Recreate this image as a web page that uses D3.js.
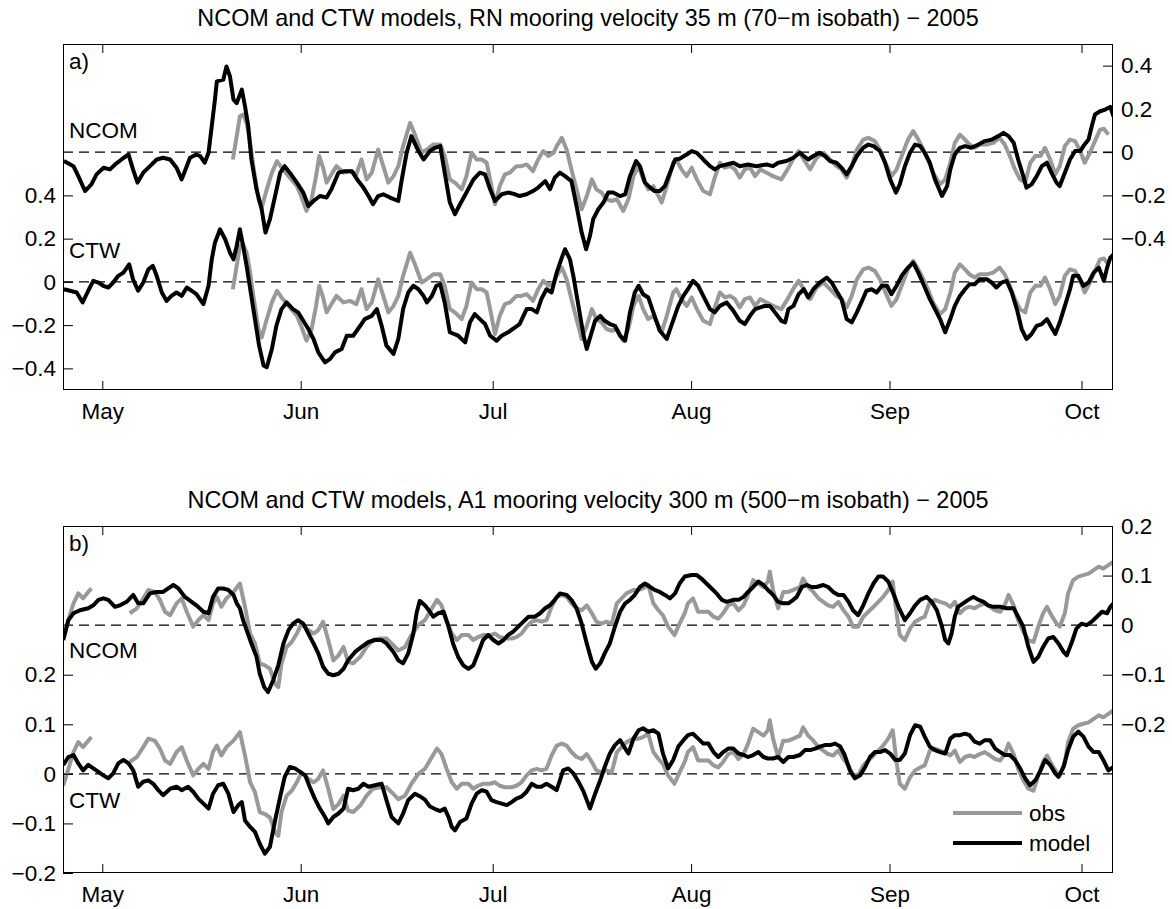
<!DOCTYPE html>
<html>
<head>
<meta charset="utf-8">
<script src="https://cdn.jsdelivr.net/npm/d3@7"></script>
<style>
  html, body { margin: 0; padding: 0; background: #fff; }
  svg { display: block; }
  text { font-family: "Liberation Sans", Arial, Helvetica, sans-serif; fill: #000; }
</style>
</head>
<body>
<svg id="chart" width="1172" height="909"></svg>
<script>
// Time is given as days since 1 May 2005; velocities in m/s.

// ---- Panel a: RN mooring, 35 m ----
const rnNcomModel = [[-6.0,-0.041],[-4.5,-0.065],[-3.75,-0.111],[-2.7,-0.180],[-1.7,-0.149],[-0.9,-0.103],[0.2,-0.072],[1.2,-0.080],[2.0,-0.057],[3.0,-0.034],[4.1,-0.011],[4.8,-0.080],[5.5,-0.141],[6.4,-0.095],[7.45,-0.065],[8.5,-0.034],[9.5,-0.026],[10.6,-0.034],[11.6,-0.072],[12.4,-0.126],[13.2,-0.065],[13.7,-0.026],[14.7,-0.011],[15.3,-0.018],[16.0,-0.049],[16.6,-0.003],[17.1,0.120],[17.6,0.243],[17.9,0.327],[18.9,0.335],[19.4,0.396],[19.95,0.350],[20.5,0.243],[21.0,0.227],[21.8,0.289],[22.3,0.212],[22.8,0.120],[23.3,-0.034],[24.1,-0.172],[24.9,-0.264],[25.5,-0.372],[26.2,-0.310],[27.0,-0.203],[27.8,-0.095],[28.5,-0.065],[29.3,-0.095],[30.4,-0.141],[31.4,-0.187],[32.2,-0.249],[33.0,-0.226],[34.0,-0.203],[35.05,-0.210],[35.8,-0.172],[36.9,-0.095],[37.9,-0.088],[39.0,-0.088],[40.0,-0.134],[40.8,-0.164],[41.6,-0.203],[42.3,-0.241],[43.1,-0.203],[43.9,-0.195],[44.95,-0.210],[46.25,-0.226],[46.8,-0.126],[47.55,-0.003],[48.3,0.074],[49.4,0.005],[50.2,-0.034],[51.2,0.005],[52.0,0.020],[52.8,0.028],[53.5,-0.095],[54.3,-0.233],[55.1,-0.287],[55.9,-0.241],[56.9,-0.187],[58.0,-0.126],[59.0,-0.095],[59.8,-0.103],[60.6,-0.172],[61.35,-0.226],[62.4,-0.195],[63.4,-0.187],[64.5,-0.195],[65.2,-0.203],[66.3,-0.195],[67.3,-0.180],[68.1,-0.164],[69.2,-0.134],[69.95,-0.172],[70.7,-0.118],[71.5,-0.095],[72.3,-0.111],[73.3,-0.134],[74.1,-0.249],[74.9,-0.372],[75.6,-0.449],[76.2,-0.387],[76.7,-0.310],[77.5,-0.264],[78.3,-0.233],[79.05,-0.187],[79.8,-0.187],[80.9,-0.203],[81.7,-0.195],[82.45,-0.111],[83.4,-0.041],[84.0,-0.065],[84.8,-0.141],[85.6,-0.164],[86.3,-0.180],[87.1,-0.180],[87.9,-0.157],[88.7,-0.095],[89.5,-0.034],[90.2,-0.031],[91.3,-0.011],[92.1,0.005],[92.9,-0.003],[93.9,-0.034],[94.95,-0.065],[95.7,-0.080],[96.5,-0.065],[97.55,-0.057],[98.6,-0.049],[99.6,-0.065],[100.9,-0.057],[102.2,-0.065],[103.8,-0.057],[104.8,-0.065],[105.6,-0.049],[106.9,-0.041],[107.97,-0.026],[109.0,-0.003],[109.6,-0.018],[110.3,-0.034],[111.1,-0.018],[112.1,-0.003],[112.9,-0.018],[113.7,-0.041],[114.7,-0.049],[115.5,-0.072],[116.3,-0.103],[117.1,-0.065],[117.9,-0.018],[118.9,0.020],[119.7,0.035],[120.5,0.028],[121.5,0.005],[122.3,-0.049],[123.1,-0.126],[124.0,-0.187],[124.6,-0.149],[125.4,-0.065],[126.2,-0.003],[127.0,0.035],[127.8,0.028],[128.5,-0.003],[129.3,-0.049],[130.1,-0.126],[131.2,-0.203],[132.0,-0.157],[132.5,-0.080],[133.2,-0.011],[134.0,0.020],[134.8,0.028],[135.8,0.020],[136.9,0.035],[137.9,0.051],[139.0,0.058],[140.0,0.074],[140.8,0.089],[141.6,0.074],[142.4,0.043],[143.1,-0.034],[143.9,-0.111],[144.4,-0.164],[145.2,-0.149],[146.0,-0.111],[146.8,-0.065],[147.6,-0.049],[148.3,-0.095],[149.1,-0.141],[149.6,-0.157],[150.4,-0.095],[151.2,-0.034],[152.0,0.005],[152.8,0.005],[153.3,0.028],[154.1,0.058],[154.6,0.120],[155.1,0.174],[155.9,0.189],[156.7,0.197],[157.5,0.209],[158.0,0.166]];

const rnCtwModel = [[-6.0,-0.034],[-5.05,-0.041],[-4.0,-0.049],[-3.07,-0.095],[-2.2,-0.041],[-1.4,0.005],[-0.6,-0.003],[0.16,-0.018],[0.94,-0.026],[1.7,-0.003],[2.5,0.028],[3.3,0.043],[4.2,0.081],[4.8,0.012],[5.6,-0.041],[6.4,-0.003],[7.2,0.058],[7.9,0.074],[8.5,0.028],[9.3,-0.049],[10.05,-0.088],[10.8,-0.065],[11.6,-0.049],[12.4,-0.065],[13.2,-0.026],[13.96,-0.041],[14.7,-0.057],[15.8,-0.103],[16.6,-0.018],[17.1,0.104],[17.6,0.181],[18.4,0.243],[19.2,0.197],[19.95,0.135],[20.5,0.104],[21.0,0.166],[21.5,0.243],[22.0,0.166],[22.55,0.074],[23.2,-0.049],[23.85,-0.172],[24.5,-0.295],[25.2,-0.387],[25.7,-0.395],[26.5,-0.310],[27.2,-0.203],[28.0,-0.126],[28.8,-0.095],[29.8,-0.126],[30.6,-0.141],[31.4,-0.180],[32.2,-0.218],[33.0,-0.264],[33.75,-0.326],[34.8,-0.372],[35.6,-0.356],[36.35,-0.326],[37.4,-0.310],[38.2,-0.249],[39.2,-0.249],[40.3,-0.203],[41.0,-0.172],[42.1,-0.157],[42.9,-0.126],[43.65,-0.203],[44.4,-0.295],[45.5,-0.333],[46.25,-0.264],[47.0,-0.126],[47.8,-0.049],[48.6,-0.018],[49.4,-0.034],[50.2,-0.065],[50.7,-0.095],[51.5,-0.065],[52.2,-0.018],[52.8,-0.011],[53.5,-0.095],[54.3,-0.233],[55.6,-0.249],[56.7,-0.280],[57.45,-0.187],[58.2,-0.149],[59.0,-0.172],[59.8,-0.195],[60.6,-0.249],[61.6,-0.272],[62.4,-0.249],[63.4,-0.233],[64.5,-0.210],[65.2,-0.195],[66.3,-0.126],[67.1,-0.126],[67.9,-0.141],[68.6,-0.080],[69.4,-0.034],[70.2,-0.049],[71.0,0.043],[71.8,0.112],[72.3,0.151],[73.07,0.104],[73.6,0.028],[74.4,-0.111],[75.2,-0.249],[75.7,-0.310],[76.3,-0.249],[77.0,-0.180],[77.8,-0.157],[78.5,-0.180],[79.3,-0.195],[80.1,-0.203],[80.9,-0.249],[81.7,-0.272],[82.45,-0.141],[83.2,-0.049],[83.8,-0.018],[84.5,-0.057],[85.3,-0.072],[86.1,-0.141],[87.1,-0.226],[88.2,-0.264],[88.9,-0.203],[90.0,-0.111],[90.8,-0.065],[91.5,-0.034],[92.3,0.005],[93.1,-0.018],[93.9,-0.065],[94.95,-0.126],[95.7,-0.141],[96.5,-0.111],[97.55,-0.095],[98.6,-0.134],[99.6,-0.180],[100.4,-0.195],[101.2,-0.157],[102.0,-0.126],[102.8,-0.118],[103.5,-0.111],[104.3,-0.111],[105.1,-0.141],[106.1,-0.180],[106.7,-0.187],[107.2,-0.126],[108.0,-0.111],[108.8,-0.057],[109.6,-0.034],[110.3,-0.072],[111.1,-0.034],[112.1,-0.003],[113.2,0.020],[113.96,-0.003],[114.7,-0.041],[115.5,-0.080],[116.3,-0.172],[117.1,-0.187],[117.9,-0.141],[118.6,-0.095],[119.4,-0.041],[120.2,-0.034],[121.0,-0.049],[121.8,-0.018],[122.6,-0.018],[123.3,-0.057],[124.1,-0.018],[124.9,0.028],[125.9,0.066],[126.7,0.089],[127.5,0.043],[128.3,-0.011],[129.3,-0.080],[130.1,-0.126],[130.9,-0.172],[131.7,-0.233],[132.5,-0.172],[133.2,-0.111],[134.0,-0.065],[134.8,-0.034],[135.5,-0.011],[136.3,-0.011],[137.1,0.012],[138.2,0.012],[138.96,-0.003],[139.7,-0.026],[140.5,-0.003],[141.3,0.005],[142.1,-0.049],[142.9,-0.126],[143.65,-0.218],[144.4,-0.264],[145.2,-0.241],[146.0,-0.203],[146.8,-0.195],[147.6,-0.172],[148.3,-0.210],[148.9,-0.241],[149.6,-0.187],[150.4,-0.111],[151.2,-0.034],[151.7,0.028],[152.5,0.028],[153.3,-0.018],[154.1,-0.003],[154.9,0.043],[155.7,0.066],[156.5,0.005],[157.0,0.066],[157.5,0.112],[158.0,0.127]];

const rnObs = [[20.4,-0.034],[21.0,0.074],[21.5,0.166],[22.0,0.174],[22.55,0.135],[23.1,0.043],[23.6,-0.065],[24.4,-0.218],[24.9,-0.257],[25.7,-0.172],[26.5,-0.095],[27.3,-0.041],[28.0,-0.072],[29.1,-0.111],[30.4,-0.157],[31.15,-0.210],[31.9,-0.272],[32.7,-0.218],[33.4,-0.111],[33.9,-0.018],[34.5,-0.072],[35.05,-0.141],[35.8,-0.103],[36.6,-0.065],[37.7,-0.095],[38.7,-0.088],[39.7,-0.103],[40.5,-0.034],[41.3,-0.126],[42.1,-0.095],[43.1,0.012],[43.9,-0.065],[44.7,-0.141],[45.5,-0.111],[46.25,-0.065],[47.0,0.028],[48.1,0.135],[48.85,0.081],[49.9,-0.003],[50.7,0.012],[51.7,0.035],[52.8,0.035],[53.5,-0.018],[54.3,-0.126],[55.1,-0.141],[56.15,-0.172],[56.9,-0.111],[57.7,-0.003],[58.5,-0.034],[59.3,-0.034],[60.05,-0.049],[60.6,-0.126],[61.35,-0.241],[62.1,-0.157],[62.9,-0.103],[63.7,-0.095],[64.7,-0.065],[65.5,-0.065],[66.3,-0.057],[67.3,-0.088],[68.1,-0.034],[68.9,0.005],[69.7,-0.018],[70.5,-0.003],[71.0,0.028],[71.8,0.066],[72.55,0.012],[73.3,-0.080],[74.1,-0.172],[74.9,-0.264],[75.7,-0.203],[76.5,-0.126],[77.2,-0.172],[78.0,-0.187],[78.8,-0.218],[79.6,-0.226],[80.4,-0.218],[81.4,-0.272],[82.2,-0.218],[83.0,-0.111],[83.8,-0.065],[84.5,-0.126],[85.3,-0.172],[86.1,-0.157],[86.9,-0.203],[87.4,-0.233],[88.2,-0.157],[89.2,-0.049],[89.7,-0.034],[90.5,-0.080],[91.3,-0.111],[92.1,-0.072],[92.9,-0.126],[93.9,-0.180],[94.95,-0.195],[95.7,-0.118],[96.5,-0.049],[97.3,-0.072],[98.1,-0.065],[98.85,-0.080],[99.6,-0.118],[100.4,-0.080],[101.2,-0.072],[102.0,-0.111],[102.8,-0.080],[103.8,-0.095],[104.8,-0.111],[106.1,-0.126],[106.9,-0.088],[108.0,-0.030],[108.8,0.005],[109.6,-0.034],[110.6,-0.080],[111.6,-0.026],[112.7,-0.003],[113.7,-0.034],[114.7,-0.065],[115.5,-0.080],[116.3,-0.118],[117.1,-0.065],[117.9,0.012],[118.9,0.058],[119.7,0.066],[120.7,0.051],[121.5,0.012],[122.6,-0.065],[123.3,-0.111],[124.1,-0.080],[124.9,-0.018],[125.9,0.058],[126.7,0.097],[127.5,0.058],[128.3,0.012],[129.0,-0.034],[129.8,-0.095],[130.9,-0.149],[131.7,-0.126],[132.5,-0.049],[133.2,0.043],[134.0,0.081],[134.8,0.058],[135.5,0.035],[136.3,0.020],[137.1,0.035],[138.2,0.035],[139.2,0.043],[140.2,0.066],[141.0,0.035],[141.8,-0.018],[142.6,-0.080],[143.4,-0.126],[144.2,-0.141],[145.0,-0.049],[145.8,-0.018],[146.6,-0.018],[147.3,0.020],[148.1,-0.034],[148.9,-0.103],[149.6,-0.065],[150.4,0.028],[151.2,0.058],[152.0,0.051],[152.8,0.005],[153.5,-0.049],[154.3,-0.003],[155.1,0.051],[155.9,0.104],[156.5,0.108],[157.2,0.081]];

// ---- Panel b: A1 mooring, 300 m ----
const a1NcomModel = [[-6.1,-0.030],[-5.3,0.010],[-4.5,0.024],[-3.5,0.030],[-2.2,0.034],[-1.4,0.040],[-0.6,0.051],[0.16,0.054],[0.94,0.051],[1.98,0.037],[2.76,0.040],[3.8,0.047],[4.84,0.061],[5.6,0.044],[6.4,0.044],[7.45,0.064],[8.5,0.067],[9.5,0.067],[10.3,0.074],[11.1,0.081],[11.9,0.074],[12.9,0.057],[13.96,0.047],[14.7,0.040],[15.8,0.027],[16.6,0.024],[17.3,0.057],[18.1,0.074],[18.9,0.074],[19.7,0.071],[20.5,0.061],[21.0,0.044],[21.5,0.034],[22.0,0.010],[22.55,-0.010],[23.3,-0.037],[24.1,-0.064],[24.6,-0.098],[25.3,-0.125],[25.9,-0.135],[26.7,-0.111],[27.5,-0.081],[28.3,-0.037],[29.1,-0.010],[29.8,0.003],[30.6,0.010],[31.4,0.003],[32.2,-0.017],[33.0,-0.037],[33.75,-0.057],[34.5,-0.084],[35.3,-0.098],[36.1,-0.101],[36.9,-0.098],[37.7,-0.088],[38.4,-0.071],[39.5,-0.054],[40.5,-0.044],[41.6,-0.034],[42.6,-0.030],[43.65,-0.030],[44.4,-0.037],[45.5,-0.054],[46.25,-0.071],[47.0,-0.077],[47.8,-0.057],[48.6,-0.017],[49.1,0.024],[49.6,0.049],[50.4,0.040],[51.2,0.027],[51.7,0.017],[52.5,0.024],[53.3,0.027],[54.1,-0.003],[54.8,-0.037],[55.6,-0.064],[56.4,-0.081],[57.2,-0.088],[57.97,-0.081],[58.7,-0.057],[59.5,-0.030],[60.3,-0.020],[61.1,-0.030],[61.9,-0.037],[62.7,-0.030],[63.4,-0.020],[64.2,-0.013],[65.0,-0.003],[65.8,0.007],[66.6,0.017],[67.6,0.017],[68.4,0.024],[69.2,0.034],[69.95,0.040],[70.7,0.051],[71.5,0.064],[72.55,0.061],[73.3,0.051],[74.1,0.034],[74.9,0.003],[75.7,-0.037],[76.5,-0.074],[77.1,-0.088],[77.8,-0.077],[78.5,-0.057],[79.3,-0.037],[80.1,-0.003],[80.9,0.027],[81.7,0.044],[82.45,0.051],[83.2,0.061],[84.0,0.077],[84.8,0.084],[85.6,0.077],[86.3,0.071],[87.1,0.067],[87.9,0.061],[88.7,0.054],[89.5,0.064],[90.2,0.084],[91.0,0.098],[92.1,0.101],[92.9,0.101],[93.6,0.094],[94.4,0.084],[95.2,0.074],[95.98,0.064],[96.8,0.051],[97.55,0.047],[98.6,0.051],[99.4,0.051],[100.2,0.057],[100.9,0.067],[101.7,0.077],[102.5,0.088],[103.3,0.081],[104.0,0.071],[104.8,0.061],[105.6,0.047],[106.4,0.044],[107.2,0.044],[107.97,0.051],[108.5,0.057],[109.3,0.077],[110.1,0.081],[110.8,0.077],[111.6,0.077],[112.66,0.081],[113.4,0.077],[114.2,0.067],[115.0,0.061],[115.8,0.061],[116.6,0.047],[117.3,0.030],[118.1,0.020],[118.9,0.040],[119.7,0.064],[120.5,0.084],[121.25,0.098],[122.0,0.098],[122.8,0.088],[123.6,0.064],[124.4,0.037],[125.4,0.010],[126.2,0.024],[127.0,0.040],[127.8,0.051],[128.8,0.057],[129.6,0.047],[130.4,0.030],[131.2,-0.003],[131.7,-0.030],[132.2,-0.037],[132.7,-0.017],[133.2,0.017],[133.7,0.037],[134.5,0.044],[135.3,0.051],[136.1,0.057],[136.9,0.051],[137.7,0.047],[138.4,0.040],[139.2,0.037],[140.3,0.037],[141.3,0.034],[142.4,0.034],[143.1,0.017],[143.9,-0.003],[144.7,-0.044],[145.5,-0.074],[146.25,-0.064],[147.0,-0.044],[147.8,-0.027],[148.6,-0.024],[149.4,-0.037],[150.2,-0.054],[150.7,-0.061],[151.5,-0.034],[152.2,-0.007],[153.0,0.003],[153.8,0.000],[154.6,0.007],[155.4,0.017],[156.2,0.027],[157.0,0.024],[157.5,0.037],[158.0,0.044]];

const a1CtwModel = [[-6.1,0.018],[-5.3,0.034],[-4.5,0.038],[-3.75,0.021],[-3.0,0.007],[-2.2,0.018],[-1.4,0.011],[-0.6,0.004],[0.16,-0.003],[0.94,-0.009],[1.7,0.001],[2.5,0.021],[3.3,0.028],[4.1,0.021],[4.84,0.007],[5.6,-0.026],[6.4,-0.016],[7.2,-0.013],[7.97,-0.020],[8.75,-0.033],[9.5,-0.043],[10.6,-0.030],[11.6,-0.026],[12.4,-0.033],[13.4,-0.026],[14.2,-0.036],[15.0,-0.050],[15.8,-0.060],[16.6,-0.070],[17.3,-0.040],[18.1,-0.023],[18.9,-0.020],[19.7,-0.040],[20.5,-0.077],[21.25,-0.063],[21.8,-0.057],[22.3,-0.094],[23.1,-0.107],[23.85,-0.117],[24.6,-0.141],[25.4,-0.161],[26.2,-0.147],[27.0,-0.094],[27.8,-0.046],[28.5,-0.006],[29.3,0.014],[30.1,0.011],[30.9,0.004],[31.7,-0.003],[32.4,-0.026],[33.2,-0.050],[34.0,-0.070],[34.8,-0.087],[35.3,-0.100],[36.1,-0.087],[36.9,-0.080],[37.7,-0.070],[38.4,-0.030],[39.2,-0.033],[40.0,-0.030],[40.8,-0.020],[41.6,-0.026],[42.6,-0.023],[43.65,-0.020],[44.4,-0.053],[45.2,-0.087],[46.25,-0.100],[47.0,-0.080],[47.8,-0.053],[48.85,-0.040],[49.6,-0.045],[50.4,-0.052],[51.2,-0.066],[52.0,-0.071],[52.8,-0.075],[53.5,-0.070],[54.1,-0.087],[54.6,-0.107],[55.1,-0.114],[55.9,-0.097],[56.9,-0.090],[57.7,-0.060],[58.5,-0.040],[59.3,-0.033],[60.05,-0.036],[60.8,-0.053],[61.6,-0.057],[62.4,-0.060],[63.2,-0.063],[63.96,-0.057],[64.7,-0.050],[65.5,-0.046],[66.3,-0.036],[67.1,-0.020],[67.9,-0.026],[68.6,-0.026],[69.4,-0.020],[70.2,-0.026],[70.99,-0.033],[71.5,-0.013],[72.0,0.007],[72.8,0.011],[73.6,0.001],[74.4,-0.016],[75.2,-0.036],[75.7,-0.053],[76.2,-0.070],[77.0,-0.040],[77.8,-0.013],[78.5,0.014],[79.3,0.041],[80.1,0.058],[80.9,0.068],[81.7,0.051],[82.2,0.041],[83.0,0.071],[83.8,0.088],[84.5,0.092],[85.3,0.085],[86.1,0.088],[86.9,0.081],[87.6,0.041],[88.4,0.011],[89.2,0.028],[90.0,0.055],[90.8,0.068],[91.5,0.078],[92.3,0.081],[93.1,0.071],[93.9,0.061],[94.7,0.061],[95.5,0.044],[96.25,0.034],[97.0,0.044],[97.8,0.051],[98.6,0.051],[99.4,0.041],[100.2,0.038],[100.9,0.034],[101.7,0.038],[102.5,0.044],[103.3,0.034],[104.0,0.031],[104.8,0.031],[105.6,0.034],[106.4,0.024],[107.2,0.034],[107.97,0.034],[109.0,0.038],[109.8,0.048],[110.6,0.048],[111.4,0.051],[112.1,0.055],[112.9,0.058],[113.7,0.058],[114.5,0.061],[115.3,0.055],[116.0,0.038],[116.8,0.007],[117.6,-0.009],[118.4,-0.003],[119.2,0.014],[119.95,0.034],[120.7,0.044],[121.5,0.044],[122.3,0.048],[123.1,0.041],[123.9,0.028],[124.6,0.028],[125.4,0.041],[126.2,0.078],[127.0,0.098],[127.8,0.095],[128.5,0.075],[129.3,0.055],[130.1,0.048],[130.9,0.044],[131.7,0.041],[132.5,0.071],[133.2,0.078],[134.0,0.078],[134.8,0.081],[135.5,0.078],[136.3,0.065],[137.1,0.061],[137.9,0.068],[138.7,0.068],[139.5,0.051],[140.3,0.044],[141.0,0.038],[141.8,0.038],[142.6,0.028],[143.4,0.011],[144.2,-0.009],[144.96,-0.023],[145.8,-0.013],[146.6,0.007],[147.3,0.028],[148.1,0.018],[148.9,0.001],[149.4,-0.006],[150.2,0.014],[150.9,0.048],[151.7,0.075],[152.5,0.085],[153.3,0.075],[154.1,0.055],[154.9,0.044],[155.7,0.044],[156.4,0.028],[157.2,0.007],[158.0,0.014]];

// null marks the gap in the record
const a1Obs = [[-6.1,-0.024],[-5.3,0.010],[-4.5,0.044],[-3.75,0.064],[-3.0,0.054],[-2.2,0.067],[-1.7,0.074],[1.0,null],[4.3,0.024],[5.4,0.034],[6.4,0.054],[7.2,0.071],[8.2,0.067],[9.0,0.051],[9.8,0.027],[10.6,0.020],[11.6,0.044],[12.4,0.054],[13.2,0.027],[14.2,-0.003],[15.0,0.010],[15.8,0.020],[16.6,0.010],[17.3,0.044],[17.9,0.057],[18.6,0.037],[19.4,0.054],[20.5,0.067],[21.5,0.084],[22.3,0.037],[23.1,-0.017],[23.85,-0.037],[24.6,-0.077],[25.4,-0.081],[26.2,-0.088],[27.0,-0.118],[27.5,-0.125],[28.0,-0.077],[28.8,-0.044],[29.6,-0.034],[30.4,-0.017],[31.1,0.003],[31.9,-0.007],[33.0,-0.017],[33.75,-0.010],[34.5,0.007],[35.3,-0.030],[36.1,-0.071],[36.9,-0.061],[37.7,-0.044],[38.4,-0.074],[39.2,-0.077],[40.3,-0.064],[41.3,-0.044],[42.3,-0.030],[43.4,-0.027],[44.4,-0.027],[45.2,-0.037],[46.25,-0.051],[47.3,-0.044],[48.3,-0.020],[49.4,0.000],[50.4,0.010],[51.5,0.034],[52.3,0.051],[53.0,0.040],[53.8,0.010],[54.6,-0.017],[55.4,-0.030],[56.15,-0.020],[57.2,-0.020],[57.97,-0.030],[58.7,-0.024],[59.5,-0.020],[60.6,-0.020],[61.35,-0.017],[62.1,-0.024],[62.9,-0.027],[63.96,-0.027],[64.7,-0.024],[65.5,-0.017],[66.3,-0.003],[67.1,0.007],[67.9,0.010],[68.6,0.007],[69.4,0.010],[70.2,0.037],[71.0,0.057],[71.8,0.061],[72.55,0.057],[73.3,0.044],[74.1,0.034],[74.9,0.030],[75.7,0.040],[76.5,0.024],[77.2,0.007],[78.0,0.003],[78.8,0.007],[79.6,0.003],[80.4,0.044],[81.15,0.054],[81.9,0.064],[83.0,0.071],[83.8,0.071],[84.5,0.074],[85.3,0.081],[86.1,0.044],[86.9,0.030],[87.6,0.020],[88.4,-0.003],[89.4,-0.020],[90.2,0.003],[91.0,0.024],[91.5,0.044],[92.3,0.054],[93.1,0.027],[93.9,0.027],[94.7,0.027],[95.5,0.017],[96.25,0.013],[97.0,0.024],[97.8,0.040],[98.6,0.044],[99.4,0.030],[100.2,0.040],[100.9,0.061],[101.7,0.091],[102.5,0.084],[103.3,0.077],[104.0,0.088],[104.3,0.108],[104.8,0.071],[105.6,0.034],[106.4,0.067],[107.2,0.067],[107.97,0.071],[109.0,0.077],[109.5,0.094],[110.3,0.077],[111.1,0.067],[111.9,0.054],[112.66,0.047],[113.4,0.040],[114.2,0.037],[115.0,0.047],[115.8,0.030],[116.6,0.017],[117.3,-0.003],[118.1,-0.003],[118.9,0.017],[119.7,0.027],[120.5,0.037],[121.25,0.047],[122.0,0.057],[122.8,0.071],[123.5,0.088],[124.1,0.024],[124.6,-0.020],[125.4,-0.030],[126.2,-0.007],[127.0,0.007],[127.8,0.013],[128.5,0.017],[129.3,0.047],[130.1,0.051],[130.9,0.047],[131.7,0.044],[132.5,0.037],[133.2,0.047],[134.0,0.024],[134.8,0.034],[135.5,0.037],[136.3,0.034],[137.1,0.040],[137.9,0.044],[138.7,0.037],[139.5,0.030],[140.3,0.027],[141.0,0.040],[141.6,0.061],[142.4,0.040],[143.1,0.010],[143.9,-0.013],[144.7,-0.030],[145.5,-0.034],[146.25,-0.003],[147.0,0.024],[147.6,0.037],[148.3,0.020],[149.1,0.003],[149.6,-0.003],[150.4,0.024],[150.9,0.064],[151.7,0.091],[152.5,0.098],[153.3,0.101],[154.1,0.104],[154.9,0.111],[155.7,0.118],[156.4,0.114],[157.2,0.121],[158.0,0.128]];

// ---- Axes ----
const monthTicks = ["2005-05-01", "2005-06-01", "2005-07-01", "2005-08-01", "2005-09-01", "2005-10-01"];
const timeExtent = [-6.14, 157.92];           // days since 1 May
const rnTicks = [-0.4, -0.2, 0, 0.2, 0.4];
const a1Ticks = [-0.2, -0.1, 0, 0.1, 0.2];
const rnCtwDomain = [-0.5, 1.1], rnNcomDomain = [-1.1, 0.5];
const a1CtwDomain = [-0.2, 0.5], a1NcomDomain = [-0.5, 0.2];

const titles = [
  "NCOM and CTW models, RN mooring velocity 35 m (70\u2212m isobath) \u2212 2005",
  "NCOM and CTW models, A1 mooring velocity 300 m (500\u2212m isobath) \u2212 2005"
];
const legendLabels = ["obs", "model"];

// ---- Drawing ----
const FONT = 22.5, TITLE_FONT = 23.4;
const OBS_COLOR = "#999999", MODEL_COLOR = "#000000";
const LW = 4;
const plotLeft = 63, plotRight = 1113;

const svg = d3.select("#chart");
svg.append("rect").attr("width", 1172).attr("height", 909).attr("fill", "#fff");

const MAY1 = Date.UTC(2005, 4, 1);
const toDate = d => new Date(MAY1 + d * 864e5);
const parseDay = d3.utcParse("%Y-%m-%d");
const x = d3.scaleUtc().domain(timeExtent.map(toDate)).range([plotLeft, plotRight]);
const monthDates = monthTicks.map(parseDay);
const fmtY = v => v === 0 ? "0" : d3.format(".1f")(v);

function drawPanel(p, idx) {
  const top = p.top, bottom = p.bottom;
  const yL = d3.scaleLinear().domain(p.ctwDomain).range([bottom, top]);
  const yR = d3.scaleLinear().domain(p.ncomDomain).range([bottom, top]);
  const g = svg.append("g");

  const clipId = "clip" + idx;
  g.append("clipPath").attr("id", clipId)
    .append("rect").attr("x", plotLeft).attr("y", top)
    .attr("width", plotRight - plotLeft).attr("height", bottom - top);

  const plot = g.append("g").attr("clip-path", `url(#${clipId})`);

  // zero reference lines
  [yR(0), yL(0)].forEach(yy => {
    plot.append("line")
      .attr("x1", plotLeft).attr("x2", plotRight)
      .attr("y1", yy).attr("y2", yy)
      .attr("stroke", "#000").attr("stroke-width", 1.4)
      .attr("stroke-dasharray", "10,6");
  });

  const mkLine = y => d3.line()
    .defined(d => d[1] != null)
    .x(d => x(toDate(d[0])))
    .y(d => y(d[1]));

  const series = [
    { data: p.obs, y: yR, color: OBS_COLOR },
    { data: p.ncom, y: yR, color: MODEL_COLOR },
    { data: p.obs, y: yL, color: OBS_COLOR },
    { data: p.ctw, y: yL, color: MODEL_COLOR }
  ];
  series.forEach(s => {
    plot.append("path")
      .attr("d", mkLine(s.y)(s.data))
      .attr("fill", "none")
      .attr("stroke", s.color)
      .attr("stroke-width", LW)
      .attr("stroke-linejoin", "round")
      .attr("stroke-linecap", "butt");
  });

  // axes with inward ticks
  const styleAxis = sel => {
    sel.attr("font-size", FONT).attr("font-family", "Liberation Sans, Arial, Helvetica, sans-serif");
    sel.select(".domain").remove();
    sel.selectAll(".tick line").attr("stroke", "#000");
    sel.selectAll(".tick text").attr("fill", "#000");
  };
  g.append("g").attr("transform", `translate(${plotLeft},0)`)
    .call(d3.axisLeft(yL).tickValues(p.ticks).tickFormat(fmtY).tickSize(-10).tickPadding(7))
    .call(styleAxis);
  g.append("g").attr("transform", `translate(${plotRight},0)`)
    .call(d3.axisRight(yR).tickValues(p.ticks).tickFormat(fmtY).tickSize(-10).tickPadding(8))
    .call(styleAxis);
  g.append("g").attr("transform", `translate(0,${bottom})`)
    .call(d3.axisBottom(x).tickValues(monthDates).tickFormat(d3.utcFormat("%b")).tickSize(-9).tickPadding(13))
    .call(styleAxis);
  g.append("g").attr("transform", `translate(0,${top})`)
    .call(d3.axisTop(x).tickValues(monthDates).tickFormat("").tickSize(-9))
    .call(styleAxis);

  // frame
  g.append("rect")
    .attr("x", plotLeft + 0.5).attr("y", top + 0.5)
    .attr("width", plotRight - plotLeft - 1).attr("height", bottom - top - 1)
    .attr("fill", "none").attr("stroke", "#000").attr("stroke-width", 1);

  // title and labels
  g.append("text").attr("x", (plotLeft + plotRight) / 2).attr("y", top - 18)
    .attr("text-anchor", "middle").attr("font-size", TITLE_FONT).text(p.title);
  g.append("text").attr("x", 69).attr("y", top + 25).attr("font-size", FONT).text(p.tag);
  g.append("text").attr("x", 69).attr("y", yR(0) + p.ncomLabelDy).attr("font-size", FONT).text("NCOM");
  g.append("text").attr("x", 69).attr("y", yL(0) + p.ctwLabelDy).attr("font-size", FONT).text("CTW");

  if (p.legend) {
    const lg = g.append("g");
    [OBS_COLOR, MODEL_COLOR].forEach((c, i) => {
      const ly = 813 + i * 30;
      lg.append("line").attr("x1", 953).attr("x2", 1022).attr("y1", ly).attr("y2", ly)
        .attr("stroke", c).attr("stroke-width", LW);
      lg.append("text").attr("x", 1029).attr("y", ly + 8).attr("font-size", FONT).text(legendLabels[i]);
    });
  }
}

drawPanel({
  top: 44, bottom: 390, title: titles[0], tag: "a)",
  ctwDomain: rnCtwDomain, ncomDomain: rnNcomDomain, ticks: rnTicks,
  ncom: rnNcomModel, ctw: rnCtwModel, obs: rnObs,
  ncomLabelDy: -14, ctwLabelDy: -24, legend: false
}, 0);

drawPanel({
  top: 526, bottom: 873, title: titles[1], tag: "b)",
  ctwDomain: a1CtwDomain, ncomDomain: a1NcomDomain, ticks: a1Ticks,
  ncom: a1NcomModel, ctw: a1CtwModel, obs: a1Obs,
  ncomLabelDy: 33, ctwLabelDy: 34, legend: true
}, 1);
</script>
</body>
</html>
